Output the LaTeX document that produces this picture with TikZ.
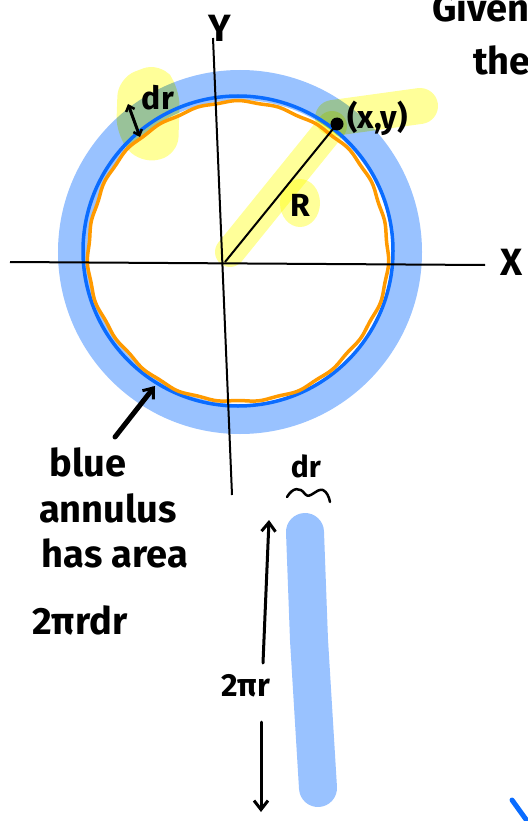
\documentclass[tikz,border=0pt]{standalone}
\usepackage{fontspec}
\setmainfont{Fira Sans}
\usetikzlibrary{arrows.meta}
\definecolor{bandblue}{HTML}{99C2FF}
\definecolor{lineblue}{HTML}{0A6CFF}
\definecolor{ringorange}{HTML}{FF9A00}
\definecolor{hlyellow}{HTML}{FFFF99}
\tikzset{
  band/.style={draw=bandblue, line width=30pt},
  hl/.style={hlyellow, line cap=round, line join=round},
  ink/.style={black, line width=3pt, line cap=round},
  handtext/.style={inner sep=0pt, font=\bfseries\fontsize{38}{40}\selectfont},
  barb/.style={-{Straight Barb[length=9pt,width=14pt,line width=3pt]}},
}
\begin{document}
\begin{tikzpicture}[x=1pt,y=-1pt]
\useasboundingbox (0,0) rectangle (527,821);
% blue annulus
\draw[band] (240,252) circle[radius=167];
% highlighter
\begin{scope}[blend mode=multiply]
\fill[hl, rounded corners=18] (118,78) -- (160,62) -- (180,88) -- (178,155) -- (140,164) -- (116,135) -- cycle;
\draw[hl, line width=36pt] (333,118) -- (420,106);
\draw[hl, line width=30pt] (230,252) -- (332,126);
\fill[hl] (300,203) ellipse[x radius=20, y radius=24];
\end{scope}
% circles
\draw[lineblue, line width=3.5pt] (238,251) circle[radius=155];
\draw[ringorange, line width=3.5pt] plot[smooth cycle, samples=150, domain=0:357.6]
  ({238+(150+0.7*sin(23*\x)+0.8*sin(7*\x))*cos(\x)}, {252+(150+0.7*sin(23*\x)+0.8*sin(7*\x))*sin(\x)});
% axes
\coordinate (xl) at (10,262);
\coordinate (xr) at (485,265);
\coordinate (yt) at (213,38);
\coordinate (yb) at (232,495);
\draw[black, line width=2pt] (xl) -- (xr);
\draw[black, line width=2pt] (yt) -- (yb);
\node[handtext] (X) at (512,262) {X};
\node[handtext] (Y) at (220,28) {Y};
% radius
\coordinate (O) at (225,262);
\coordinate (P) at (337,124);
\draw[black, line width=2pt] (O) -- (P);
\fill[black] (P) circle[radius=6.5];
\node[handtext, font=\bfseries\fontsize{32}{34}\selectfont] (R) at (300,205) {R};
\node[handtext, anchor=west, font=\bfseries\fontsize{32}{34}\selectfont] (xy) at (347,118) {(x,y)};
% dr at top
\coordinate (d1) at (128,104);
\coordinate (d2) at (140,137);
\draw[ink, {Straight Barb[length=5pt,width=9pt,line width=2.5pt]}-{Straight Barb[length=5pt,width=9pt,line width=2.5pt]}] (d1) -- (d2);
\node[handtext, font=\bfseries\fontsize{32}{34}\selectfont] (dr1) at (158,98) {dr};
% pointer arrow
\coordinate (a1) at (115,437);
\coordinate (a2) at (155,386);
\draw[black, line width=5pt, line cap=round, barb] (a1) -- (a2);
% left text
\node[handtext] (t1) at (88,462) {blue};
\node[handtext] (t2) at (108,508) {annulus};
\node[handtext] (t3) at (115,553) {has area};
\node[handtext] (t4) at (80,620) {2πrdr};
% strip
\coordinate (s1) at (305,532);
\coordinate (s2) at (309,640);
\coordinate (s3) at (318,788);
\draw[bandblue, line width=38pt, line cap=round] (s1) -- (s2) -- (s3);
\node[handtext, font=\bfseries\fontsize{30}{32}\selectfont] (dr2) at (306,466) {dr};
\coordinate (tl) at (287,497);
\coordinate (tr) at (330,502);
\draw[ink, line width=2.5pt] (tl) .. controls (293,487) and (300,487) .. (305,494)
  .. controls (310,500) and (316,488) .. (323,490) .. controls (327,492) and (329,497) .. (tr);
% 2 pi r arrows
\coordinate (u1) at (263,663);
\coordinate (u2) at (269,520);
\draw[ink, line width=3pt, barb] (u1) -- (u2);
\node[handtext, font=\bfseries\fontsize{32}{34}\selectfont] (tpr) at (246,686) {2πr};
\coordinate (v1) at (261,722);
\coordinate (v2) at (261,812);
\draw[ink, line width=3pt, barb] (v1) -- (v2);
% top right cut-off text
\node[handtext, anchor=west] (g1) at (432,6) {Given a};
\node[handtext, anchor=west] (g2) at (473,60) {the};
% bottom right stroke
\coordinate (b1) at (512,800);
\coordinate (b2) at (530,825);
\draw[lineblue, line width=5pt, line cap=round] (b1) -- (b2);
\end{tikzpicture}
\end{document}
